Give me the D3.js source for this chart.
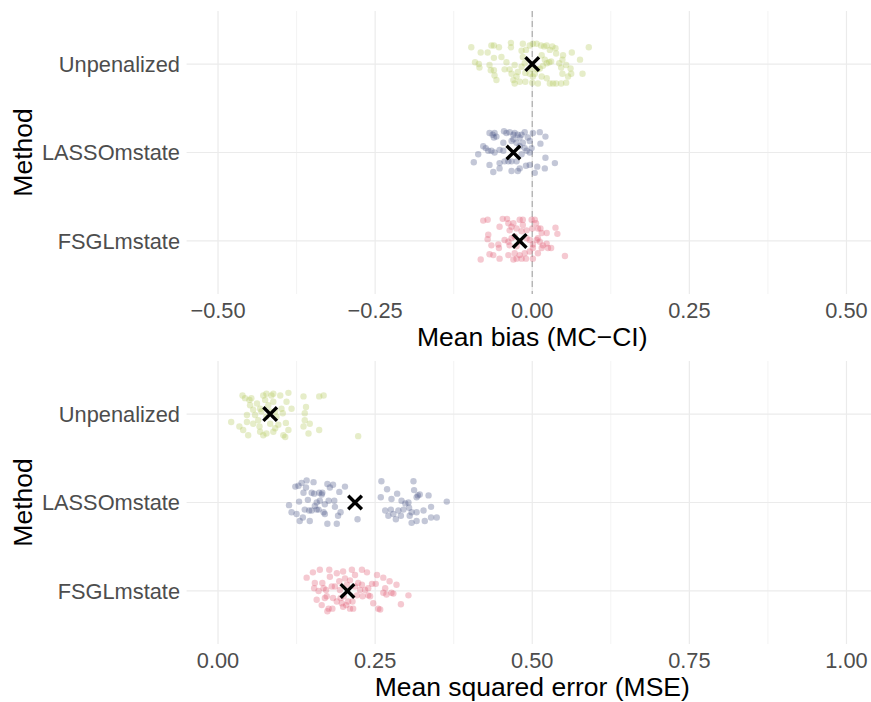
<!DOCTYPE html>
<html><head><meta charset="utf-8">
<script src="https://cdn.jsdelivr.net/npm/d3@7"></script>
<style>body{margin:0;background:#fff}</style>
</head><body>
<svg id="chart" width="871" height="702"></svg>
<script>
const methods = ["Unpenalized", "LASSOmstate", "FSGLmstate"];
const colors = ["#b3c75a", "#4a5585", "#e05a72"];
const biasTicks = [-0.5, -0.25, 0, 0.25, 0.5];
const mseTicks = [0, 0.25, 0.5, 0.75, 1];
const biasMeans = [0.000, -0.030, -0.020];
const mseMeans = [0.083, 0.218, 0.206];

// [value, vertical jitter (fraction of category step)]
const biasUnpenalized = [[-0.097,-0.19],[-0.082,-0.13],[-0.071,-0.13],[-0.065,-0.21],[-0.061,-0.21],[-0.053,-0.19],[-0.061,-0.07],[-0.049,-0.08],[-0.034,-0.24],[-0.034,-0.19],[-0.041,-0.02],[-0.091,-0.02],[-0.085,0.00],[-0.084,0.04],[-0.068,0.01],[-0.066,0.07],[-0.061,0.07],[-0.060,0.13],[-0.057,0.18],[-0.044,0.06],[-0.036,0.06],[-0.033,0.11],[-0.030,0.18],[-0.028,0.22],[-0.020,0.20],[-0.017,0.03],[-0.015,-0.23],[-0.017,-0.15],[-0.010,-0.16],[-0.015,-0.08],[-0.012,-0.01],[-0.011,0.10],[-0.011,0.20],[-0.004,-0.21],[0.001,-0.23],[0.007,-0.23],[0.014,-0.21],[0.019,-0.20],[0.023,-0.21],[0.028,-0.16],[0.032,-0.20],[0.037,-0.18],[0.038,-0.12],[0.015,-0.10],[0.020,-0.05],[0.023,-0.01],[0.027,-0.02],[0.030,-0.03],[0.017,0.02],[0.012,0.05],[0.008,0.06],[0.004,0.11],[0.001,0.14],[0.000,0.21],[0.009,0.22],[0.015,0.14],[0.023,0.16],[0.028,0.22],[0.033,0.22],[0.038,0.22],[0.046,0.22],[0.054,0.21],[0.057,0.14],[0.062,0.11],[0.048,0.11],[0.046,0.04],[0.048,-0.05],[0.049,-0.10],[0.043,-0.01],[0.054,0.01],[0.061,0.05],[0.063,-0.13],[0.076,-0.05],[0.080,0.11],[0.090,-0.19],[-0.025,0.14],[-0.023,0.09],[-0.028,0.01],[-0.004,0.11],[-0.001,0.05]];
const biasLasso = [[-0.093,0.11],[-0.086,0.02],[-0.078,-0.07],[-0.074,-0.05],[-0.070,-0.02],[-0.068,-0.22],[-0.063,-0.20],[-0.060,-0.22],[-0.061,-0.17],[-0.057,-0.18],[-0.065,-0.02],[-0.060,0.00],[-0.052,-0.03],[-0.046,-0.02],[-0.045,-0.24],[-0.041,-0.22],[-0.036,-0.23],[-0.030,-0.20],[-0.028,-0.22],[-0.023,-0.20],[-0.020,-0.17],[-0.017,-0.20],[-0.012,-0.23],[-0.007,-0.17],[0.001,-0.22],[0.012,-0.23],[0.021,-0.18],[0.013,-0.10],[-0.004,-0.13],[-0.015,-0.11],[-0.033,-0.13],[-0.025,-0.11],[-0.046,-0.11],[-0.044,0.10],[-0.038,0.10],[-0.033,0.10],[-0.025,0.10],[-0.052,0.12],[-0.068,0.14],[-0.062,0.22],[-0.052,0.18],[-0.033,0.21],[-0.023,0.21],[-0.020,0.18],[-0.010,0.15],[-0.004,0.14],[0.004,0.23],[0.008,0.16],[0.020,0.18],[0.021,0.06],[0.036,0.12],[-0.009,-0.02],[-0.004,0.00],[-0.017,0.02],[-0.020,-0.07],[-0.012,-0.05],[-0.001,-0.05],[-0.030,-0.15]];
const biasFsgl = [[-0.078,-0.23],[-0.071,-0.24],[-0.047,-0.25],[-0.040,-0.25],[-0.052,-0.16],[-0.038,-0.20],[-0.033,-0.16],[-0.030,-0.20],[-0.036,-0.12],[-0.025,-0.14],[-0.020,-0.24],[-0.015,-0.24],[-0.015,-0.18],[-0.017,-0.11],[-0.009,-0.12],[-0.001,-0.24],[0.004,-0.24],[0.006,-0.20],[0.000,-0.14],[0.009,-0.14],[0.013,-0.14],[0.015,-0.09],[0.023,-0.09],[0.037,-0.15],[0.040,-0.08],[-0.070,-0.07],[-0.071,-0.02],[-0.054,0.04],[-0.065,0.05],[-0.053,0.08],[-0.044,-0.01],[-0.038,0.01],[-0.033,-0.03],[-0.036,0.05],[-0.028,-0.05],[-0.025,0.06],[-0.020,0.01],[-0.009,-0.03],[-0.004,-0.01],[0.007,-0.01],[0.012,0.01],[0.017,0.05],[0.023,0.03],[0.025,0.08],[0.030,0.08],[0.015,0.08],[0.001,0.08],[-0.004,0.12],[-0.012,0.14],[-0.020,0.16],[-0.028,0.14],[-0.025,0.20],[-0.030,0.21],[-0.017,0.20],[-0.010,0.20],[0.001,0.20],[-0.068,0.15],[-0.062,0.16],[-0.052,0.20],[-0.082,0.21],[-0.038,0.16],[0.052,0.17],[0.009,0.14],[0.009,-0.03],[0.001,0.04]];

const mseUnpenalized = [[0.021,0.09],[0.034,0.14],[0.039,-0.21],[0.040,0.18],[0.043,-0.18],[0.046,0.01],[0.046,0.09],[0.048,0.24],[0.050,-0.16],[0.051,-0.10],[0.053,-0.18],[0.056,0.11],[0.059,0.01],[0.062,-0.12],[0.064,0.07],[0.066,0.14],[0.067,0.20],[0.069,-0.03],[0.072,-0.21],[0.075,-0.16],[0.077,-0.23],[0.080,-0.10],[0.083,0.11],[0.085,-0.21],[0.088,-0.23],[0.088,-0.14],[0.088,0.20],[0.091,0.16],[0.077,0.22],[0.072,0.24],[0.096,0.12],[0.099,-0.21],[0.101,-0.06],[0.103,-0.01],[0.104,0.24],[0.107,0.26],[0.108,0.10],[0.112,-0.24],[0.109,-0.14],[0.112,0.18],[0.117,-0.06],[0.093,0.03],[0.067,-0.06],[0.056,-0.05],[0.136,-0.20],[0.140,-0.08],[0.138,-0.01],[0.138,0.07],[0.136,0.14],[0.146,0.11],[0.144,0.22],[0.161,0.18],[0.161,-0.20],[0.168,-0.21],[0.077,0.03],[0.083,-0.03],[0.091,-0.03],[0.223,0.25]];
const mseLasso = [[0.113,0.03],[0.117,0.11],[0.123,-0.18],[0.125,0.13],[0.129,-0.01],[0.130,0.21],[0.135,0.17],[0.133,-0.22],[0.136,-0.11],[0.140,-0.17],[0.141,-0.25],[0.143,-0.03],[0.145,0.09],[0.149,-0.11],[0.149,0.09],[0.152,-0.23],[0.153,-0.10],[0.154,0.04],[0.157,0.08],[0.160,0.08],[0.161,-0.11],[0.165,-0.09],[0.166,-0.11],[0.168,0.11],[0.170,0.13],[0.174,-0.21],[0.176,-0.02],[0.174,0.24],[0.178,-0.17],[0.183,-0.20],[0.185,-0.02],[0.186,0.05],[0.189,0.24],[0.191,0.15],[0.193,-0.12],[0.195,0.11],[0.202,-0.18],[0.222,0.19],[0.162,-0.02],[0.146,0.21],[0.138,0.08],[0.128,-0.19],[0.157,0.00],[0.170,0.02],[0.260,-0.24],[0.259,-0.06],[0.269,-0.15],[0.266,0.09],[0.271,0.15],[0.275,0.08],[0.276,-0.04],[0.279,0.13],[0.283,0.19],[0.285,-0.10],[0.287,0.09],[0.291,0.15],[0.295,0.08],[0.298,0.01],[0.303,0.00],[0.304,0.06],[0.308,0.11],[0.311,-0.24],[0.312,-0.14],[0.316,-0.06],[0.318,-0.08],[0.316,0.11],[0.316,0.21],[0.308,0.23],[0.321,-0.09],[0.327,0.09],[0.329,0.21],[0.335,-0.08],[0.339,0.05],[0.339,0.17],[0.348,0.17],[0.364,-0.01],[0.305,0.15],[0.292,-0.02]];
const mseFsgl = [[0.141,-0.15],[0.151,-0.21],[0.154,-0.09],[0.153,-0.03],[0.157,0.10],[0.160,0.00],[0.162,-0.24],[0.165,0.16],[0.166,-0.09],[0.168,-0.03],[0.170,0.08],[0.172,-0.01],[0.174,0.23],[0.176,0.20],[0.177,-0.24],[0.178,-0.16],[0.181,-0.05],[0.182,0.20],[0.183,0.08],[0.186,-0.05],[0.189,-0.20],[0.193,-0.11],[0.194,-0.01],[0.195,0.08],[0.197,0.14],[0.199,-0.22],[0.200,0.06],[0.204,0.16],[0.205,-0.07],[0.207,0.12],[0.210,-0.12],[0.213,-0.24],[0.214,0.12],[0.215,0.20],[0.218,-0.05],[0.221,0.05],[0.223,-0.09],[0.226,-0.01],[0.229,-0.24],[0.230,0.06],[0.234,-0.01],[0.237,-0.21],[0.239,0.05],[0.242,0.06],[0.245,-0.08],[0.247,0.14],[0.251,-0.08],[0.253,-0.18],[0.255,0.20],[0.258,0.21],[0.263,-0.15],[0.263,0.02],[0.266,-0.03],[0.268,0.04],[0.273,-0.11],[0.276,0.02],[0.279,0.03],[0.284,-0.07],[0.291,0.15],[0.303,0.05],[0.189,0.12],[0.199,0.18],[0.210,0.20],[0.173,0.06],[0.218,-0.18],[0.202,-0.14],[0.229,-0.07],[0.239,-0.03]];

const svg = d3.select("#chart");
const FONT = "'Liberation Sans', Arial, Helvetica, sans-serif";

function panel(cfg) {
  const g = svg.append("g");
  const x = d3.scaleLinear().domain(cfg.domain).range([186.6, 877.9]);
  const y = d3.scalePoint().domain(methods).range([cfg.top, cfg.bottom]).padding(0.6);
  const step = y.step();
  const minor = cfg.ticks.slice(0, -1).map((t, i) => (t + cfg.ticks[i + 1]) / 2);

  g.selectAll(".minor").data(minor).join("line")
    .attr("x1", d => x(d)).attr("x2", d => x(d))
    .attr("y1", cfg.top).attr("y2", cfg.bottom)
    .attr("stroke", "#ebebeb").attr("stroke-width", 0.6);
  g.selectAll(".major").data(cfg.ticks).join("line")
    .attr("x1", d => x(d)).attr("x2", d => x(d))
    .attr("y1", cfg.top).attr("y2", cfg.bottom)
    .attr("stroke", "#ebebeb").attr("stroke-width", 1.2);
  g.selectAll(".hgrid").data(methods).join("line")
    .attr("x1", x.range()[0]).attr("x2", x.range()[1])
    .attr("y1", d => y(d)).attr("y2", d => y(d))
    .attr("stroke", "#ebebeb").attr("stroke-width", 1.2);

  if (cfg.vline !== undefined) {
    g.append("line")
      .attr("x1", x(cfg.vline)).attr("x2", x(cfg.vline))
      .attr("y1", cfg.top).attr("y2", cfg.bottom)
      .attr("stroke", "#b0b0b0").attr("stroke-width", 1.3)
      .attr("stroke-dasharray", "6,4");
  }

  cfg.series.forEach((pts, i) => {
    g.append("g").selectAll("circle").data(pts).join("circle")
      .attr("cx", d => x(d[0]))
      .attr("cy", d => y(methods[i]) + d[1] * step)
      .attr("r", 3.2)
      .attr("fill", colors[i])
      .attr("fill-opacity", 0.33);
  });

  const s = 6.8;
  g.selectAll(".mean").data(cfg.means).join("path")
    .attr("d", (d, i) => {
      const cx = x(d), cy = y(methods[i]);
      return `M${cx - s},${cy - s}L${cx + s},${cy + s}M${cx - s},${cy + s}L${cx + s},${cy - s}`;
    })
    .attr("stroke", "#000").attr("stroke-width", 3.4).attr("fill", "none");

  // y tick labels
  g.selectAll(".ylab").data(methods).join("text")
    .attr("x", 180).attr("y", d => y(d)).attr("dy", "0.35em")
    .attr("text-anchor", "end").attr("fill", "#4d4d4d")
    .style("font-family", FONT).style("font-size", "21.8px")
    .text(d => d);
  // x tick labels
  g.selectAll(".xlab").data(cfg.ticks).join("text")
    .attr("x", d => x(d)).attr("y", cfg.bottom + 16).attr("dy", "0.35em")
    .attr("text-anchor", "middle").attr("fill", "#4d4d4d")
    .style("font-family", FONT).style("font-size", "21.8px")
    .text(d => d3.format(".2f")(d));
  // axis titles
  g.append("text")
    .attr("x", (186.6 + 877.9) / 2).attr("y", cfg.bottom + 43).attr("dy", "0.35em")
    .attr("text-anchor", "middle").attr("fill", "#000")
    .style("font-family", FONT).style("font-size", "26.5px")
    .text(cfg.xtitle);
  g.append("text")
    .attr("transform", `translate(23,${(cfg.top + cfg.bottom) / 2}) rotate(-90)`)
    .attr("dy", "0.35em")
    .attr("text-anchor", "middle").attr("fill", "#000")
    .style("font-family", FONT).style("font-size", "26.5px")
    .text("Method");
}

panel({
  domain: [-0.55, 0.55], ticks: biasTicks, top: 11, bottom: 294, vline: 0,
  series: [biasUnpenalized, biasLasso, biasFsgl], means: biasMeans,
  xtitle: "Mean bias (MC\u2212CI)"
});
panel({
  domain: [-0.05, 1.05], ticks: mseTicks, top: 361, bottom: 644,
  series: [mseUnpenalized, mseLasso, mseFsgl], means: mseMeans,
  xtitle: "Mean squared error (MSE)"
});
</script>
</body></html>
